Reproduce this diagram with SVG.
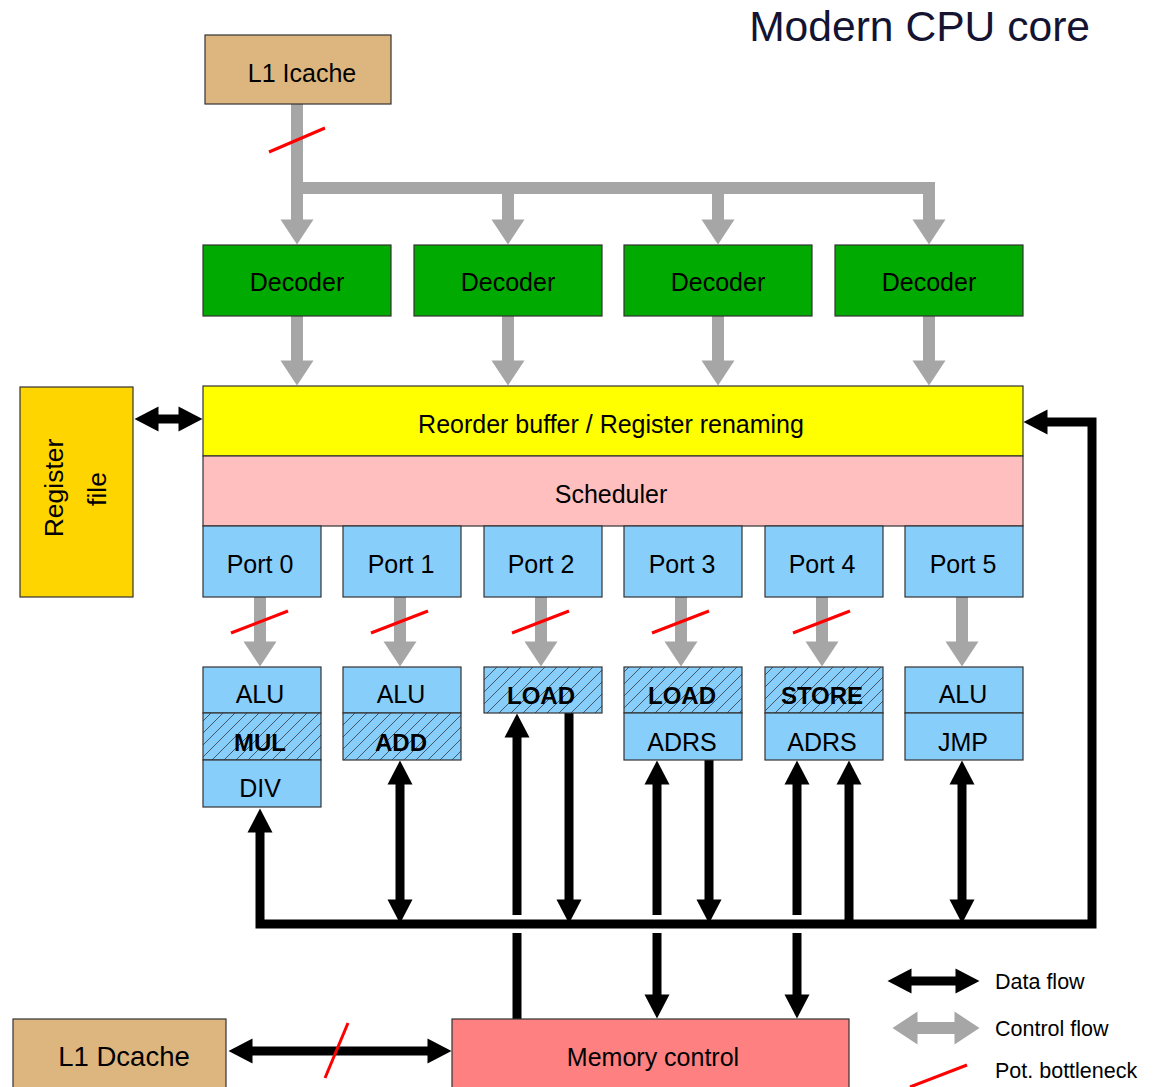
<svg xmlns="http://www.w3.org/2000/svg" width="1153" height="1087" viewBox="0 0 1153 1087">
<style>
.box{stroke:#333;stroke-width:1.2}
.t{font-family:"Liberation Sans",Arial,sans-serif;font-size:25px;fill:#000;text-anchor:middle}
.b{font-weight:bold;font-size:24px}
.leg{font-family:"Liberation Sans",Arial,sans-serif;font-size:21.5px;fill:#000}
.data{stroke:#000;stroke-width:9;fill:none;stroke-linejoin:miter}
.ctrl{stroke:#A6A6A6;stroke-width:12;fill:none;stroke-linejoin:miter}
.neck{stroke:#FF0000;stroke-width:3;fill:none}
.blue{fill:#88CEFB}
</style>
<defs>
<marker id="bh" markerUnits="userSpaceOnUse" markerWidth="26" markerHeight="27" refX="0.5" refY="12.5" orient="auto-start-reverse" overflow="visible"><path d="M0,0 L24,12.5 L0,25 z" fill="#000"/></marker>
<marker id="gh" markerUnits="userSpaceOnUse" markerWidth="27" markerHeight="35" refX="0.5" refY="16.5" orient="auto-start-reverse" overflow="visible"><path d="M0,0 L25,16.5 L0,33 z" fill="#A6A6A6"/></marker>
<pattern id="hatch" patternUnits="userSpaceOnUse" width="12" height="12"><rect width="12" height="12" fill="#88CEFB"/><path d="M-3,3 L3,-3 M0,12 L12,0 M9,15 L15,9" stroke="#222" stroke-width="0.7"/></pattern>
</defs>
<rect width="1153" height="1087" fill="#fff"/>
<text x="1090" y="41" style="font-family:'Liberation Sans',Arial,sans-serif;font-size:42.6px;fill:#141432;text-anchor:end">Modern CPU core</text>

<g id="connectors">
<path class="ctrl" d="M297,104 V220" marker-end="url(#gh)"/>
<path class="ctrl" d="M297,188 H929 V220" marker-end="url(#gh)"/>
<path class="ctrl" d="M508,188 V220" marker-end="url(#gh)"/>
<path class="ctrl" d="M718,188 V220" marker-end="url(#gh)"/>
<path class="ctrl" d="M297,316 V361" marker-end="url(#gh)"/>
<path class="ctrl" d="M508,316 V361" marker-end="url(#gh)"/>
<path class="ctrl" d="M718,316 V361" marker-end="url(#gh)"/>
<path class="ctrl" d="M929,316 V361" marker-end="url(#gh)"/>
<path class="ctrl" d="M260,597 V642" marker-end="url(#gh)"/>
<path class="ctrl" d="M400,597 V642" marker-end="url(#gh)"/>
<path class="ctrl" d="M541,597 V642" marker-end="url(#gh)"/>
<path class="ctrl" d="M681,597 V642" marker-end="url(#gh)"/>
<path class="ctrl" d="M822,597 V642" marker-end="url(#gh)"/>
<path class="ctrl" d="M962,597 V642" marker-end="url(#gh)"/>
<path class="data" d="M158,419 H179" marker-start="url(#bh)" marker-end="url(#bh)"/>
<path class="data" d="M260,832 V924 H1092 V422 H1047" marker-start="url(#bh)" marker-end="url(#bh)"/>
<path class="data" d="M400,784 V900" marker-start="url(#bh)" marker-end="url(#bh)"/>
<path class="data" d="M517,915 V737" marker-end="url(#bh)"/>
<path class="data" d="M517,933 V1019"/>
<path class="data" d="M569,713 V900" marker-end="url(#bh)"/>
<path class="data" d="M657,915 V784" marker-end="url(#bh)"/>
<path class="data" d="M657,933 V995" marker-end="url(#bh)"/>
<path class="data" d="M709,760 V900" marker-end="url(#bh)"/>
<path class="data" d="M797,915 V784" marker-end="url(#bh)"/>
<path class="data" d="M797,933 V995" marker-end="url(#bh)"/>
<path class="data" d="M849,924 V784" marker-end="url(#bh)"/>
<path class="data" d="M962,784 V900" marker-start="url(#bh)" marker-end="url(#bh)"/>
<path class="data" d="M252,1051 H428" marker-start="url(#bh)" marker-end="url(#bh)"/>
<path class="neck" d="M269,152 L325,128"/>
<path class="neck" d="M231,633 L288,611"/>
<path class="neck" d="M371,633 L428,611"/>
<path class="neck" d="M512,633 L569,611"/>
<path class="neck" d="M652,633 L709,611"/>
<path class="neck" d="M793,633 L850,611"/>
<path class="neck" d="M325,1078 L348,1023"/>
</g>

<g id="l1-icache"><rect class="box" x="205" y="35" width="186" height="69" fill="#DDB67F"/><text class="t" x="302" y="82">L1 Icache</text></g>

<g id="decoder-0"><rect class="box" x="203" y="245" width="188" height="71" fill="#00AA00"/><text class="t" x="297" y="291">Decoder</text></g>
<g id="decoder-1"><rect class="box" x="414" y="245" width="188" height="71" fill="#00AA00"/><text class="t" x="508" y="291">Decoder</text></g>
<g id="decoder-2"><rect class="box" x="624" y="245" width="188" height="71" fill="#00AA00"/><text class="t" x="718" y="291">Decoder</text></g>
<g id="decoder-3"><rect class="box" x="835" y="245" width="188" height="71" fill="#00AA00"/><text class="t" x="929" y="291">Decoder</text></g>

<g id="register-file"><rect class="box" x="20" y="387" width="113" height="210" fill="#FFD500"/>
<text class="t" transform="translate(63,488) rotate(-90)" style="font-size:26.5px">Register</text>
<text class="t" transform="translate(106,489) rotate(-90)" style="font-size:26.5px">file</text></g>

<g id="reorder-buffer"><rect class="box" x="203" y="386" width="820" height="70" fill="#FFFF00"/><text class="t" x="611" y="433">Reorder buffer / Register renaming</text></g>
<g id="scheduler"><rect class="box" x="203" y="456" width="820" height="70" fill="#FFBFBF"/><text class="t" x="611" y="503">Scheduler</text></g>

<g id="port-0"><rect class="box blue" x="203" y="526" width="118" height="71"/><text class="t" x="260" y="573">Port 0</text></g>
<g id="port-1"><rect class="box blue" x="343" y="526" width="118" height="71"/><text class="t" x="401" y="573">Port 1</text></g>
<g id="port-2"><rect class="box blue" x="484" y="526" width="118" height="71"/><text class="t" x="541" y="573">Port 2</text></g>
<g id="port-3"><rect class="box blue" x="624" y="526" width="118" height="71"/><text class="t" x="682" y="573">Port 3</text></g>
<g id="port-4"><rect class="box blue" x="765" y="526" width="118" height="71"/><text class="t" x="822" y="573">Port 4</text></g>
<g id="port-5"><rect class="box blue" x="905" y="526" width="118" height="71"/><text class="t" x="963" y="573">Port 5</text></g>

<g id="unit-0">
<rect class="box blue" x="203" y="667" width="118" height="46"/><text class="t" x="260" y="703">ALU</text>
<rect class="box" x="203" y="713" width="118" height="47" fill="url(#hatch)"/><text class="t b" x="260" y="751">MUL</text>
<rect class="box blue" x="203" y="760" width="118" height="47"/><text class="t" x="260" y="797">DIV</text>
</g>
<g id="unit-1">
<rect class="box blue" x="343" y="667" width="118" height="46"/><text class="t" x="401" y="703">ALU</text>
<rect class="box" x="343" y="713" width="118" height="47" fill="url(#hatch)"/><text class="t b" x="401" y="751">ADD</text>
</g>
<g id="unit-2">
<rect class="box" x="484" y="667" width="118" height="46" fill="url(#hatch)"/><text class="t b" x="541" y="704">LOAD</text>
</g>
<g id="unit-3">
<rect class="box" x="624" y="667" width="118" height="46" fill="url(#hatch)"/><text class="t b" x="682" y="704">LOAD</text>
<rect class="box blue" x="624" y="713" width="118" height="47"/><text class="t" x="682" y="751">ADRS</text>
</g>
<g id="unit-4">
<rect class="box" x="765" y="667" width="118" height="46" fill="url(#hatch)"/><text class="t b" x="822" y="704">STORE</text>
<rect class="box blue" x="765" y="713" width="118" height="47"/><text class="t" x="822" y="751">ADRS</text>
</g>
<g id="unit-5">
<rect class="box blue" x="905" y="667" width="118" height="46"/><text class="t" x="963" y="703">ALU</text>
<rect class="box blue" x="905" y="713" width="118" height="47"/><text class="t" x="963" y="751">JMP</text>
</g>

<g id="l1-dcache"><rect class="box" x="13" y="1019" width="213" height="90" fill="#DDB67F"/><text class="t" x="124" y="1066" style="font-size:27.5px">L1 Dcache</text></g>
<g id="memory-control"><rect class="box" x="452" y="1019" width="397" height="90" fill="#FF8080"/><text class="t" x="653" y="1066">Memory control</text></g>

<g id="legend">
<path class="data" d="M911,981 H956" marker-start="url(#bh)" marker-end="url(#bh)"/>
<text class="leg" x="995" y="989">Data flow</text>
<path class="ctrl" d="M917,1028 H955" marker-start="url(#gh)" marker-end="url(#gh)"/>
<text class="leg" x="995" y="1036">Control flow</text>
<path class="neck" d="M910,1087 L967,1065"/>
<text class="leg" x="995" y="1078">Pot. bottleneck</text>
</g>
</svg>
